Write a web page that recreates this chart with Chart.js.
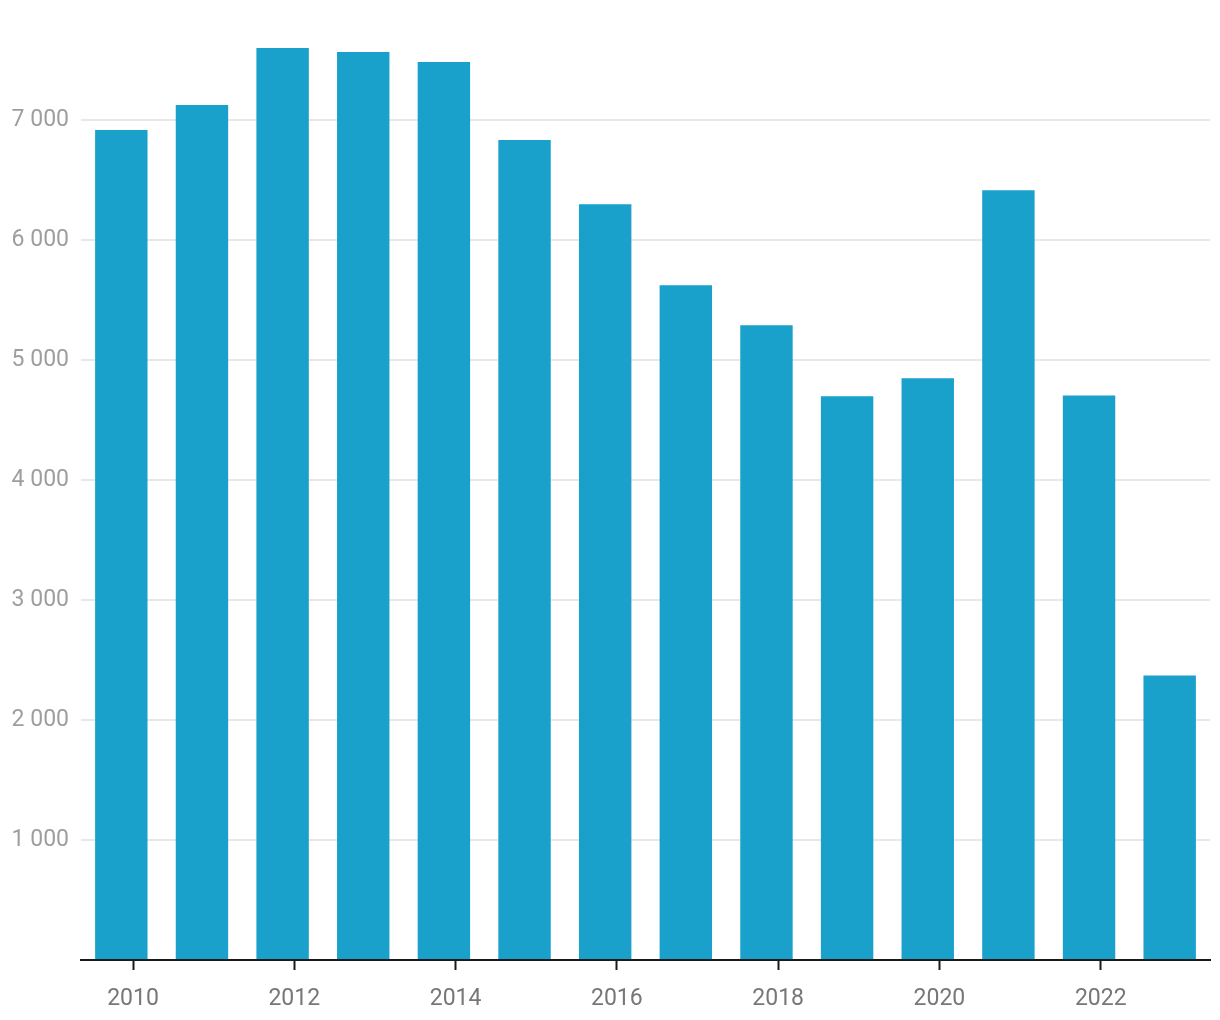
<!DOCTYPE html>
<html lang="en">
<head>
  <meta charset="UTF-8">
  <title>Bars by year</title>
  <script src="https://cdn.jsdelivr.net/npm/chart.js"></script>
  <style>
    html, body { margin: 0; padding: 0; background: #fff; }
    #wrap { width: 1220px; height: 1020px; }
  </style>
</head>
<body>
  <div id="wrap"><canvas id="myChart"></canvas></div>

  <script>
    const years = [2010, 2011, 2012, 2013, 2014, 2015, 2016, 2017, 2018, 2019, 2020, 2021, 2022, 2023];
    const values = [6919, 7128, 7603, 7570, 7487, 6835, 6301, 5625, 5291, 4699, 4849, 6418, 4707, 2372];
    const xTickYears = [2010, 2012, 2014, 2016, 2018, 2020, 2022];
    const yTickValues = [1000, 2000, 3000, 4000, 5000, 6000, 7000];

    function spaced(n) {
      return String(n).replace(/\B(?=(\d{3})+(?!\d))/g, ' ');
    }

    const ctx = document.getElementById('myChart').getContext('2d');
    Chart.defaults.font.family = 'Roboto, sans-serif';
    Chart.defaults.font.size = 23;

    new Chart(ctx, {
      type: 'bar',
      data: {
        labels: years.map(String),
        datasets: [{
          data: values,
          backgroundColor: '#19a1cc',
          barPercentage: 0.65,
          categoryPercentage: 1.0
        }]
      },
      options: {
        responsive: true,
        maintainAspectRatio: false,
        animation: false,
        layout: { padding: { top: 48, right: 10, bottom: 0, left: 0 } },
        plugins: { legend: { display: false }, tooltip: { enabled: false } },
        scales: {
          x: {
            display: false,
            offset: true
          },
          // year ticks sit a little right of the bar centres, like the original
          x2: {
            type: 'linear',
            position: 'bottom',
            offset: false,
            min: 2009.355,
            max: 2023.355,
            afterBuildTicks: scale => {
              scale.ticks = xTickYears.map(v => ({ value: v }));
            },
            afterFit: scale => { scale.height = 60; },
            grid: {
              offset: false,
              drawOnChartArea: false,
              drawTicks: true,
              tickLength: 10,
              tickWidth: 2,
              color: '#1a1a1a'
            },
            border: { display: true, color: '#1a1a1a', width: 2 },
            ticks: {
              color: '#777777',
              padding: 15,
              maxRotation: 0,
              autoSkip: false,
              callback: v => String(v)
            }
          },
          y: {
            min: 0,
            max: Math.max(...values),
            afterBuildTicks: scale => {
              scale.ticks = [0].concat(yTickValues).map(v => ({ value: v }));
            },
            afterFit: scale => { scale.width = 81; },
            grid: {
              drawTicks: false,
              color: '#e8e8e8',
              lineWidth: 2
            },
            border: { display: false },
            ticks: {
              color: '#9e9e9e',
              padding: 12,
              callback: v => v === 0 ? '' : spaced(v)
            }
          }
        }
      }
    });
  </script>
</body>
</html>
